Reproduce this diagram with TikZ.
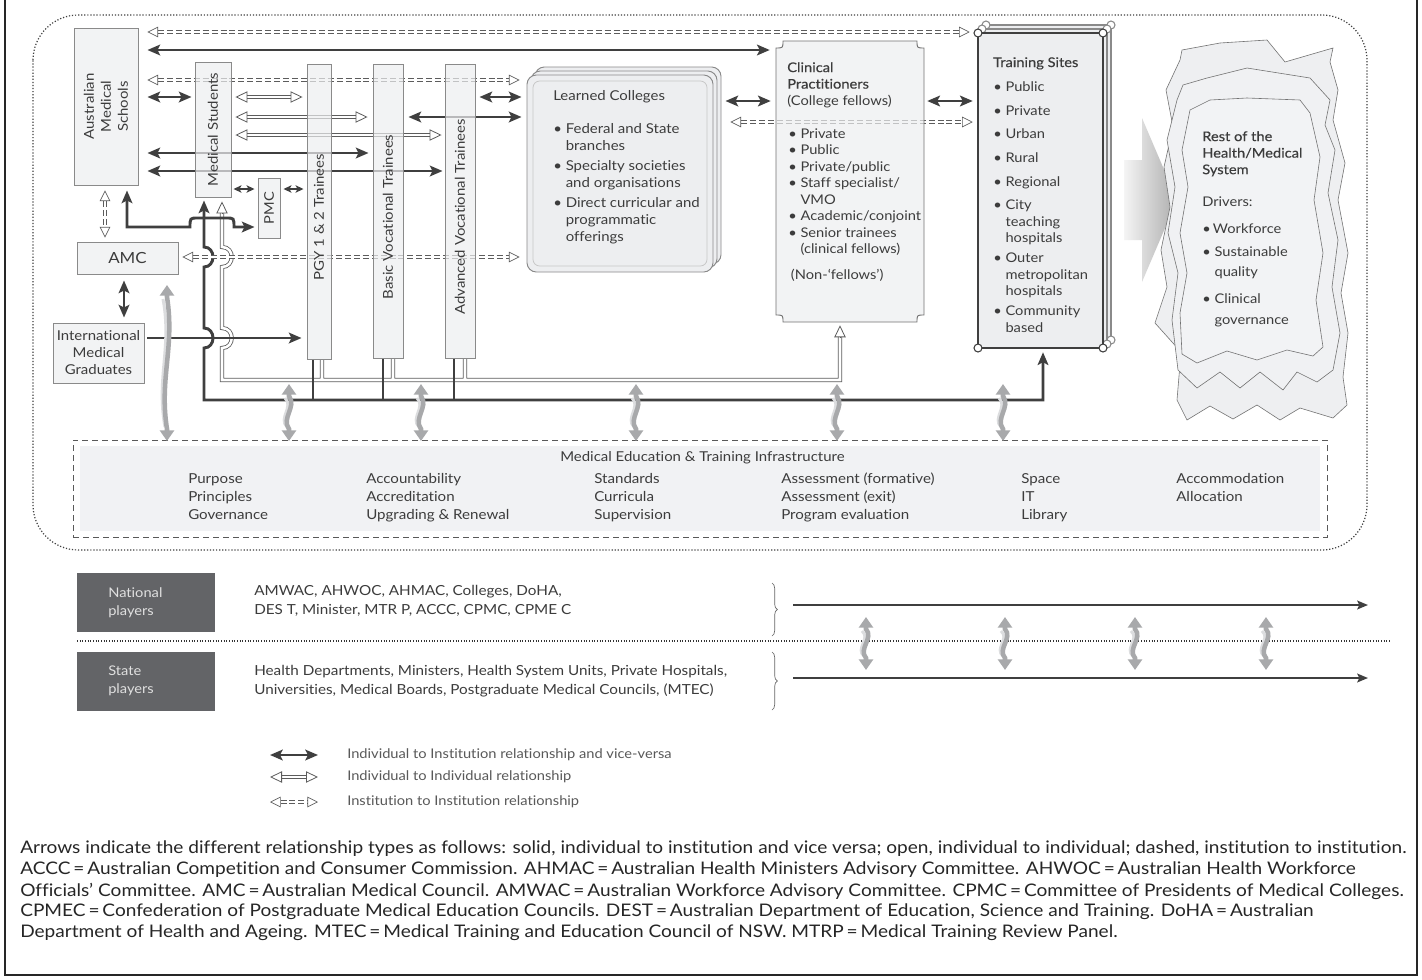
\documentclass[tikz,border=0pt]{standalone}
\usepackage{fontspec}
\setmainfont{Lato}[FakeStretch=1.1, Ligatures=NoCommon]
\newfontfamily\medfont{Lato}[FakeStretch=1.1, FakeBold=0.4, Ligatures=NoCommon]
\usetikzlibrary{arrows.meta,fit,decorations.pathreplacing}
\pgfdeclarelayer{bg}
\pgfsetlayers{bg,main}
\definecolor{txt}{HTML}{3C3C3C}
\definecolor{bfill}{HTML}{EDEEF0}
\definecolor{bline}{HTML}{8A8A8A}
\definecolor{dk}{HTML}{3F3F3F}
\definecolor{ol}{HTML}{5C5C5C}
\definecolor{pl}{HTML}{636467}
\definecolor{wv}{HTML}{A8A9AB}
\definecolor{wvl}{HTML}{DCDDDF}
\definecolor{infill}{HTML}{F1F2F4}
\definecolor{rha}{HTML}{EEEFF1}
\definecolor{rhb}{HTML}{F0F1F3}
\definecolor{rhc}{HTML}{F2F3F5}
\tikzset{
 vbox/.style={draw=bline, line width=0.7pt, fill=bfill, fill opacity=0.7, inner sep=0pt},
 lbl/.style={text=txt, font=\fontsize{10.2}{12.75}\selectfont, inner sep=0pt},
 sarr/.style={draw=dk, line width=2.2pt, {Stealth[length=9.5pt,width=8pt,inset=2pt]}-{Stealth[length=9.5pt,width=8pt,inset=2pt]}},
 sarrone/.style={draw=dk, line width=2.2pt, -{Stealth[length=9.5pt,width=8pt,inset=2pt]}},
 smarr/.style={draw=dk, line width=1.6pt, {Stealth[length=6pt,width=5.5pt,inset=1.5pt]}-{Stealth[length=6pt,width=5.5pt,inset=1.5pt]}},
 oarr/.style={draw=ol, line width=0.6pt, double=white, double distance=1.9pt, {Triangle[open,length=9pt,width=8.5pt,line width=0.6pt]}-{Triangle[open,length=9pt,width=8.5pt,line width=0.6pt]}},
 darr/.style={draw=ol, line width=0.5pt, double=white, double distance=1.5pt, dash pattern=on 4.5pt off 2.2pt, {Triangle[open,length=8pt,width=8pt,line width=0.5pt]}-{Triangle[open,length=8pt,width=8pt,line width=0.5pt]}},
 wavy/.style={draw=wv, line width=3.4pt, {Triangle[length=8pt,width=10.5pt]}-{Triangle[length=8pt,width=10.5pt]}},
 wavyg/.style={draw=wvl, line width=2.2pt},
 infotext/.style={text=txt, font=\fontsize{10.3}{13.5}\selectfont, inner sep=0pt, align=left, anchor=north west},
 foot/.style={text=black!85, font=\fontsize{13}{15}\selectfont, inner sep=0pt, anchor=west},
 legtxt/.style={text=black!65, font=\fontsize{10}{12}\selectfont, inner sep=0pt, anchor=west},
 rhline/.style={draw=black!55, line width=0.45pt},
 ptxt/.style={text=txt, font=\fontsize{10.4}{14.25}\selectfont, inner sep=0pt, align=left, anchor=north west},
 sidetxt/.style={text=txt, font=\fontsize{10}{12.4}\selectfont, inner sep=0pt, align=left, anchor=north west},
}
\newcommand\wavyarr[3]{%
  \draw[wavyg] ({#1-4},{#2+14}) .. controls ({#1+5},{#2+0.4*(#3-#2)}) and ({#1-11},{#2+0.6*(#3-#2)}) .. ({#1-2},{#3-14});
  \draw[wavy] (#1,#2) -- (#1,{#2+12}) .. controls ({#1+8},{#2+0.4*(#3-#2)}) and ({#1-8},{#2+0.6*(#3-#2)}) .. (#1,{#3-12}) -- (#1,#3);
}
\newcommand\tsrect[5]{%
  \draw[draw=#5, fill=bfill, line width=0.8pt] (#1,#2) rectangle (#3,#4);
  \foreach \cx/\cy in {#1/#2,#3/#2,#1/#4,#3/#4}{\draw[draw=#5, fill=white, line width=0.8pt] (\cx,\cy) circle[radius=3pt];}
}
\newcommand\opennetpath{(222,213) -- (222,247) .. controls (235,247) and (235,267) .. (222,267) -- (222,328) .. controls (235,328) and (235,348) .. (222,348) -- (222,380) -- (840,380) -- (840,337)
  (322,359) -- (322,380) (393,358) -- (393,380) (465,358) -- (465,380)}
\begin{document}
\begin{tikzpicture}[x=0.75pt,y=-0.75pt]
\useasboundingbox (0,0) rectangle (1422,979);
\begin{pgfonlayer}{bg}\fill[white] (0,0) rectangle (1422,979);\end{pgfonlayer}

% frame and dotted region
\draw[draw=black!85, line width=1.5pt] (5,-4) -- (5,975) -- (1417,975) -- (1417,-4);
\draw[draw=black!75, line width=0.9pt, dash pattern=on 0.9pt off 1.4pt, rounded corners=34pt] (33,15) rectangle (1367,550);

% infrastructure
\node[fit={(73,440)(1327,537)}, inner sep=0pt, draw=black!65, line width=0.6pt, dash pattern=on 4.5pt off 3pt] (infra) {};
\fill[infill] (80,446) rectangle (1320,531);
\node[text=txt, font=\fontsize{10.2}{12}\selectfont, anchor=west, inner sep=0pt] (inftitle) at (560,458) {Medical Education \& Training Infrastructure};
\node[infotext] (inf1) at (188,473) {Purpose\\Principles\\Governance};
\node[infotext] (inf2) at (366,473) {Accountability\\Accreditation\\Upgrading \& Renewal};
\node[infotext] (inf3) at (594,473) {Standards\\Curricula\\Supervision};
\node[infotext] (inf4) at (781,473) {Assessment (formative)\\Assessment (exit)\\Program evaluation};
\node[infotext] (inf5) at (1021,473) {Space\\IT\\Library};
\node[infotext] (inf6) at (1176,473) {Accommodation\\Allocation};

% boxes
\node[vbox, fit={(74,28)(138,185)}] (ams) {};
\node[lbl, rotate=90, align=center] (amstxt) at (ams.center) {Australian\\Medical\\Schools};
\node[vbox, fit={(195,62)(231,197)}] (ms) {};
\node[lbl, rotate=90] (mstxt) at (ms.center) {Medical Students};
\node[vbox, fit={(307,64)(331,359)}] (pgy) {};
\node[lbl, rotate=90] (pgytxt) at (319,217) {PGY 1 \& 2 Trainees};
\node[vbox, fit={(373,64)(403,358)}] (bvt) {};
\node[lbl, rotate=90] (bvttxt) at (388,217) {Basic Vocational Trainees};
\node[vbox, fit={(445,64)(475,358)}] (avt) {};
\node[lbl, rotate=90] (avttxt) at (460,217) {Advanced Vocational Trainees};
\node[vbox, fit={(258,178)(280,238)}] (pmc) {};
\node[lbl, rotate=90, font=\fontsize{10}{12}\selectfont] (pmctxt) at (pmc.center) {PMC};
\node[vbox, fit={(77,242)(178,274)}] (amc) {};
\node[lbl, font=\fontsize{11.5}{13}\selectfont] (amctxt) at (amc.center) {AMC};
\node[vbox, fit={(53,323)(144,383)}] (img) {};
\node[lbl, align=center, font=\fontsize{10.2}{12.75}\selectfont] (imgtxt) at (img.center) {International\\Medical\\Graduates};

% learned colleges
\draw[draw=bline, fill=bfill, line width=0.7pt, rounded corners=7pt] (535,67) rectangle (721,264);
\draw[draw=bline, fill=bfill, line width=0.7pt, rounded corners=7pt] (531,71) rectangle (717,268);
\node[fit={(527,75)(713,272)}, inner sep=0pt, draw=bline, fill=bfill, line width=0.7pt, rounded corners=7pt] (lc) {};
\draw[draw=black!22, line width=0.6pt, rounded corners=5pt] (533,81) rectangle (707,266);
\node[lbl, align=left, anchor=north west] (lctxt) at (553,90) {Learned Colleges\\[12pt]• Federal and State\\\hphantom{• }branches\\[2.25pt]• Specialty societies\\\hphantom{• }and organisations\\[2.25pt]• Direct curricular and\\\hphantom{• }programmatic\\\hphantom{• }offerings};

% clinical practitioners
\path[draw=black!55, line width=0.7pt, fill=bfill, fill opacity=0.7] (783,41) -- (917,41) .. controls (917,48) .. (924,48) -- (924,315) .. controls (917,315) .. (917,322) -- (783,322) .. controls (783,315) .. (776,315) -- (776,48) .. controls (783,48) .. (783,41) -- cycle;
\node[fit={(776,41)(924,322)}, inner sep=0pt] (cp) {};
\node[sidetxt] (cptitle) at (787,62) {{\medfont Clinical}\\{\medfont Practitioners}\\(College fellows)};
\node[sidetxt] (cplist) at (788,128) {• Private\\• Public\\• Private/public\\• Staff specialist/\\\hphantom{• }VMO\\• Academic/conjoint\\• Senior trainees\\\hphantom{• }(clinical fellows)\\[7pt]\hspace*{2pt}(Non-‘fellows’)};

% training sites
\tsrect{986}{25}{1111}{340}{bline}
\tsrect{982}{29}{1107}{344}{bline}
\tsrect{978}{33}{1103}{348}{dk}
\node[fit={(978,33)(1103,348)}, inner sep=0pt] (ts) {};
\node[sidetxt] (tstxt) at (993,57) {{\medfont Training Sites}\\[5.6pt]• Public\\[5.6pt]• Private\\[5pt]• Urban\\[5.6pt]• Rural\\[5.6pt]• Regional\\[5.2pt]• City\\\hphantom{• }teaching\\\hphantom{• }hospitals\\[2.6pt]• Outer\\\hphantom{• }metropolitan\\\hphantom{• }hospitals\\[2.6pt]• Community\\\hphantom{• }based};

% big gradient arrow
\shade[left color=gray!8, right color=gray!65] (1124,160) -- (1142,160) -- (1142,118) -- (1177,200) -- (1142,282) -- (1142,240) -- (1124,240) -- cycle;

% rest of the health system
\draw[rhline, fill=rha] (1182,50) -- (1220,43) -- (1267,40) -- (1285,62) -- (1333,48) -- (1330,62) -- (1338,90) -- (1333,120) -- (1345,163) -- (1338,200) -- (1348,253) -- (1341,293) -- (1348,333) -- (1343,377) -- (1347,405) -- (1333,418) -- (1300,408) -- (1280,420) -- (1257,405) -- (1233,419) -- (1210,406) -- (1187,420) -- (1177,400) -- (1181,352) -- (1155,323) -- (1167,287) -- (1161,250) -- (1170,207) -- (1164,167) -- (1173,127) -- (1166,90) -- (1180,60) -- cycle;
\draw[rhline, fill=rhb] (1183,85) -- (1207,78) -- (1247,68) -- (1310,78) -- (1330,100) -- (1325,125) -- (1335,150) -- (1328,193) -- (1338,240) -- (1332,287) -- (1340,333) -- (1333,370) -- (1317,382) -- (1297,372) -- (1283,390) -- (1260,372) -- (1240,388) -- (1220,372) -- (1197,388) -- (1178,370) -- (1172,320) -- (1178,273) -- (1168,233) -- (1175,187) -- (1167,140) -- (1177,100) -- cycle;
\draw[rhline, fill=rhc] (1190,110) -- (1210,100) -- (1247,98) -- (1300,100) -- (1310,113) -- (1320,157) -- (1314,200) -- (1323,253) -- (1316,300) -- (1323,347) -- (1313,356) -- (1287,350) -- (1257,360) -- (1227,351) -- (1197,363) -- (1182,354) -- (1180,313) -- (1187,273) -- (1180,233) -- (1188,187) -- (1182,150) -- cycle;
\node[fit={(1155,40)(1348,420)}, inner sep=0pt] (rh) {};
\node[sidetxt] (rhtxt) at (1202,131) {{\medfont Rest of the}\\{\medfont Health/Medical}\\{\medfont System}\\[11.6pt]Drivers:\\[7.9pt]•\,Workforce\\[4.9pt]• Sustainable\\[2.6pt]\hphantom{• }quality\\[7.9pt]• Clinical\\[3.4pt]\hphantom{• }governance};

% ---------- connectors (behind the boxes) ----------
\begin{pgfonlayer}{bg}
\draw[draw=ol, line width=3.1pt] \opennetpath;
\draw[draw=white, line width=1.9pt] \opennetpath;
\draw[draw=ol, line width=0.6pt, -{Triangle[open,length=9pt,width=8.5pt]}, shorten >=3pt] (222,214) -- (ms.south -| 222,0);
\draw[draw=ol, line width=0.6pt, -{Triangle[open,length=9pt,width=8.5pt]}, shorten >=2.25pt] (840,338) -- (cp.south -| 840,0);
\draw[sarr, shorten <=2.25pt, shorten >=3pt] (ms.south -| 204,0) -- (204,247) .. controls (216,247) and (216,267) .. (204,267) -- (204,328) .. controls (216,328) and (216,348) .. (204,348) -- (204,400) -- (1043,400) -- (ts.south -| 1043,0);
\draw[draw=dk, line width=2.2pt] (pgy.south -| 313,0) -- (313,400) (bvt.south -| 383,0) -- (383,400) (avt.south -| 454,0) -- (454,400);
\draw[sarr, shorten <=3.75pt, shorten >=2.25pt] (ams.south -| 127,0) -- (127,227) -- (190,227) .. controls (190,218) .. (198,218) -- (226,218) .. controls (234,218) .. (234,227) -- (pmc.west |- 0,227);
\draw[darr, shorten <=6.75pt, shorten >=6pt] (ams.east |- 0,32) -- (ts.west |- 0,32);
\draw[sarr, shorten <=6.75pt, shorten >=4.5pt] (ams.east |- 0,50) -- (cp.west |- 0,50);
\draw[darr, shorten <=6.75pt, shorten >=5.25pt] (ams.east |- 0,80) -- (lc.west |- 0,80);
\draw[sarr, shorten <=6.75pt, shorten >=2.25pt] (ams.east |- 0,97) -- (ms.west |- 0,97);
\draw[oarr, shorten <=3pt, shorten >=3pt] (ms.east |- 0,97) -- (pgy.west |- 0,97);
\draw[oarr, shorten <=3pt, shorten >=3.75pt] (ms.east |- 0,117) -- (bvt.west |- 0,117);
\draw[oarr, shorten <=3pt, shorten >=2.25pt] (ms.east |- 0,135) -- (avt.west |- 0,135);
\draw[sarr, shorten <=6.75pt, shorten >=3pt] (ams.east |- 0,153) -- (bvt.west |- 0,153);
\draw[sarr, shorten <=6.75pt, shorten >=1.5pt] (ams.east |- 0,171) -- (avt.west |- 0,171);
\draw[smarr, shorten <=1.5pt, shorten >=2.25pt] (ms.east |- 0,189) -- (pmc.west |- 0,189);
\draw[smarr, shorten <=2.25pt, shorten >=2.25pt] (pmc.east |- 0,189) -- (pgy.west |- 0,189);
\draw[sarr, shorten <=3pt, shorten >=3.75pt] (avt.east |- 0,97) -- (lc.west |- 0,97);
\draw[sarr, shorten <=3.75pt, shorten >=3.75pt] (bvt.east |- 0,117) -- (lc.west |- 0,117);
\draw[darr, shorten <=3pt, shorten >=5.25pt] (amc.east |- 0,257) -- (lc.west |- 0,257);
\draw[sarr, shorten <=9pt, shorten >=3.75pt] (lc.east |- 0,101) -- (cp.west |- 0,101);
\draw[sarr, shorten <=2.25pt, shorten >=3.75pt] (cp.east |- 0,101) -- (ts.west |- 0,101);
\draw[darr, shorten <=12.75pt, shorten >=3.75pt] (lc.east |- 0,122) -- (ts.west |- 0,122);
\draw[darr, shorten <=3.75pt, shorten >=3pt] (ams.south -| 105,0) -- (amc.north -| 105,0);
\draw[sarr, shorten <=4.5pt, shorten >=3.75pt] (amc.south -| 124,0) -- (img.north -| 124,0);
\draw[sarrone, shorten <=2.25pt, shorten >=3.75pt] (img.east |- 0,338) -- (pgy.west |- 0,338);
\end{pgfonlayer}

% wavy arrows between levels
\wavyarr{167}{285}{441}
\wavyarr{289}{384}{441}
\wavyarr{421}{384}{441}
\wavyarr{636}{384}{441}
\wavyarr{837}{384}{441}
\wavyarr{1003}{384}{441}

% players
\node[fit={(77,573)(215,632)}, inner sep=0pt, fill=pl] (natbox) {};
\node[text=white!88!black, font=\fontsize{10}{13.5}\selectfont, align=left, anchor=north west, inner sep=0pt] (nattxt) at (108,587) {National\\players};
\node[fit={(77,652)(215,711)}, inner sep=0pt, fill=pl] (stbox) {};
\node[text=white!88!black, font=\fontsize{10}{13.5}\selectfont, align=left, anchor=north west, inner sep=0pt] (sttxt) at (108,666) {State\\players};
\node[ptxt] (natlist) at (254,585) {AMWAC, AHWOC, AHMAC, Colleges, DoHA,\\DES T, Minister, MTR P, ACCC, CPMC, CPME C};
\node[ptxt] (stlist) at (254,665) {Health Departments, Ministers, Health System Units, Private Hospitals,\\Universities, Medical Boards, Postgraduate Medical Councils, (MTEC)};
\draw[draw=black!60, line width=0.5pt, decorate, decoration={brace, amplitude=4pt}] (772,583) -- (772,636);
\draw[draw=black!60, line width=0.5pt, decorate, decoration={brace, amplitude=4pt}] (772,652) -- (772,710);
\draw[draw=black!80, line width=0.9pt, dash pattern=on 0.8pt off 1.2pt] (77,641) -- (1390,641);
\coordinate (nata) at (793,605); \coordinate (natb) at (1368,605);
\coordinate (sta) at (793,678); \coordinate (stb) at (1368,678);
\draw[draw=dk, line width=1.5pt, -{Stealth[length=8pt,width=6.5pt,inset=1.5pt]}] (nata) -- (natb);
\draw[draw=dk, line width=1.5pt, -{Stealth[length=8pt,width=6.5pt,inset=1.5pt]}] (sta) -- (stb);
\wavyarr{866}{617}{670}
\wavyarr{1005}{617}{670}
\wavyarr{1135}{617}{670}
\wavyarr{1266}{617}{670}

% legend
\coordinate (l1a) at (270,755); \coordinate (l1b) at (318,755);
\coordinate (l2a) at (270,777); \coordinate (l2b) at (318,777);
\coordinate (l3a) at (270,802); \coordinate (l3b) at (318,802);
\draw[sarr, line width=1.8pt] (l1a) -- (l1b);
\draw[oarr] (l2a) -- (l2b);
\draw[darr] (l3a) -- (l3b);
\node[legtxt] (lt1) at (347,755) {Individual to Institution relationship and vice-versa};
\node[legtxt] (lt2) at (347,777) {Individual to Individual relationship};
\node[legtxt] (lt3) at (347,802) {Institution to Institution relationship};

% footnote
\node[foot] (f1) at (20,849) {Arrows indicate the different relationship types as follows: solid, individual to institution and vice versa; open, individual to individual; dashed, institution to institution.};
\node[foot] (f2) at (20,870) {ACCC\,=\,Australian Competition and Consumer Commission. AHMAC\,=\,Australian Health Ministers Advisory Committee. AHWOC\,=\,Australian Health Workforce};
\node[foot] (f3) at (20,891) {Officials’ Committee. AMC\,=\,Australian Medical Council. AMWAC\,=\,Australian Workforce Advisory Committee. CPMC\,=\,Committee of Presidents of Medical Colleges.};
\node[foot] (f4) at (20,912) {CPMEC\,=\,Confederation of Postgraduate Medical Education Councils. DEST\,=\,Australian Department of Education, Science and Training. DoHA\,=\,Australian};
\node[foot] (f5) at (20,933) {Department of Health and Ageing. MTEC\,=\,Medical Training and Education Council of NSW. MTRP\,=\,Medical Training Review Panel.};
\end{tikzpicture}
\end{document}
